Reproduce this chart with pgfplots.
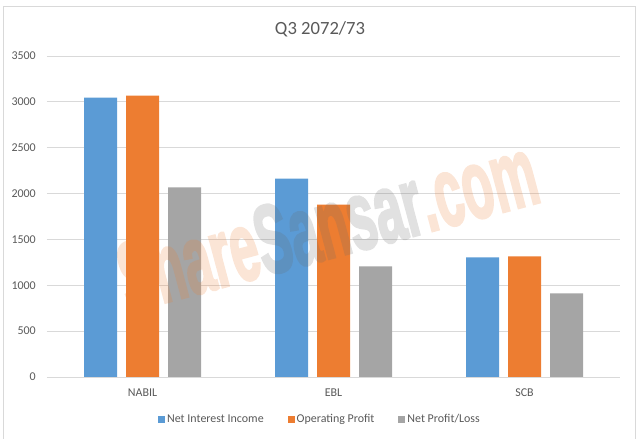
\documentclass[border=0pt]{standalone}
\usepackage{fontspec}
\setmainfont{Carlito}
\newfontfamily\wmfont[FakeBold=3]{Liberation Sans Bold}
\usepackage{pgfplots}
\pgfplotsset{compat=1.18}
\definecolor{niiblue}{HTML}{5B9BD5}
\definecolor{oporange}{HTML}{ED7D31}
\definecolor{npgray}{HTML}{A5A5A5}
\definecolor{gridgray}{HTML}{D9D9D9}
\definecolor{textgray}{HTML}{595959}
\definecolor{wmgray}{HTML}{696969}
\begin{document}
\begin{tikzpicture}
\useasboundingbox (0bp,0bp) rectangle (642bp,439bp);
\draw[gridgray, line width=1bp] (3bp,-2bp) -- (3bp,432bp) -- (635bp,432bp) -- (635bp,-2bp);
\begin{axis}[
  at={(47bp,62bp)}, anchor=south west,
  scale only axis, width=573bp, height=321bp,
  ybar, bar width=33bp,
  xmin=-0.5, xmax=2.5,
  ymin=0, ymax=3500,
  ytick={0,500,...,3500},
  xtick=data,
  xticklabels={NABIL,EBL,SCB},
  major tick length=0pt,
  axis line style={draw=none},
  ymajorgrids,
  grid style={gridgray, line width=0.75bp},
  /pgf/number format/assume math mode=true,
  /pgf/number format/1000 sep={},
  yticklabel style={font=\fontsize{12}{14}\selectfont, text=textgray, anchor=east, inner sep=0pt, xshift=-11bp},
  xticklabel style={font=\fontsize{12}{14}\selectfont, text=textgray, anchor=base, inner sep=0pt, yshift=-19bp},
  legend style={at={(0.4764,-0.131)}, anchor=center, draw=none, fill=none,
    legend columns=3, font=\fontsize{12}{14}\selectfont, text=textgray,
    /tikz/every even column/.append style={column sep=22bp}},
  legend image code/.code={\fill[#1,/tikz/.cd,draw=none] (0bp,-3.5bp) rectangle (7bp,3.5bp);},
]
\addplot[fill=niiblue, draw=none, bar shift=-42bp] coordinates {(0,3047) (1,2163) (2,1304)};
\addplot[fill=oporange, draw=none, bar shift=0bp] coordinates {(0,3068) (1,1880) (2,1315)};
\addplot[fill=npgray, draw=none, bar shift=42bp] coordinates {(0,2068) (1,1207) (2,913)};
\legend{Net Interest Income, Operating Profit, Net Profit/Loss}
\end{axis}
\node[anchor=base, font=\fontsize{18.7}{22}\selectfont, text=textgray] at (320bp,404bp) {Q3 2072/73};
\begin{scope}[transparency group, opacity=0.2]
\node[rotate=15, xscale=0.52, inner sep=0pt,
  font=\wmfont\fontsize{98}{100}\bfseries\selectfont] at (327bp,216bp)
  {\textcolor{oporange}{Share}\textcolor{wmgray}{Sansar}\textcolor{oporange}{.com}};
\end{scope}
\end{tikzpicture}
\end{document}
